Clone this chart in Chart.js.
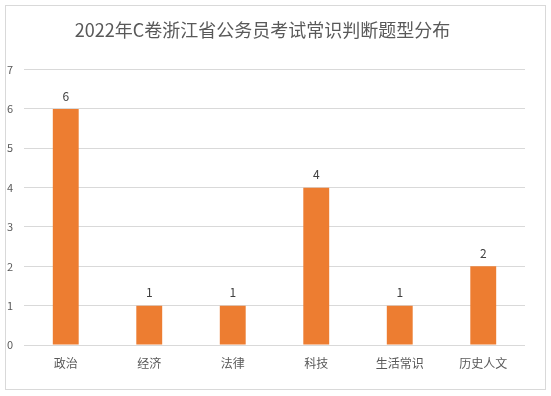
<!DOCTYPE html>
<html lang="zh">
<head>
<meta charset="UTF-8">
<title>常识判断题型分布</title>
<script src="https://cdn.jsdelivr.net/npm/chart.js"></script>
<style>
    body {
        margin: 0;
        padding: 0;
        background: #ffffff;
    }
    .wrap {
        position: relative;
        width: 551px;
        height: 396px;
    }
    .frame {
        position: absolute;
        left: 5px;
        top: 5px;
        width: 539px;
        height: 383px;
        border: 1px solid #d9d9d9;
        pointer-events: none;
    }
</style>
</head>
<body>
<div class="wrap">
    <canvas id="chart" width="551" height="396"></canvas>
    <div class="frame"></div>
</div>
<script>
    const categories = ['政治', '经济', '法律', '科技', '生活常识', '历史人文'];
    const counts = [6, 1, 1, 4, 1, 2];
    const yTicks = [0, 1, 2, 3, 4, 5, 6, 7];

    const FONT = '"Noto Sans CJK SC", "Noto Sans", sans-serif';

    // 柱子上方的数值
    const valueLabels = {
        id: 'valueLabels',
        afterDatasetsDraw(chart) {
            const ctx = chart.ctx;
            const meta = chart.getDatasetMeta(0);
            ctx.save();
            ctx.fillStyle = '#404040';
            ctx.font = '12px ' + FONT;
            ctx.textAlign = 'center';
            ctx.textBaseline = 'middle';
            meta.data.forEach((bar, i) => {
                ctx.fillText(counts[i], bar.x, bar.y - 13);
            });
            ctx.restore();
        }
    };

    new Chart(document.getElementById('chart'), {
        type: 'bar',
        data: {
            labels: categories,
            datasets: [{
                data: counts,
                backgroundColor: '#ed7d31',
                borderWidth: 0,
                categoryPercentage: 1,
                barPercentage: 0.31
            }]
        },
        options: {
            responsive: false,
            animation: false,
            layout: { padding: { left: 0, right: 26, top: 0, bottom: 0 } },
            scales: {
                x: {
                    grid: { display: false },
                    border: { display: false },
                    ticks: {
                        color: '#595959',
                        font: { family: FONT, size: 12 },
                        padding: 3
                    },
                    afterFit(scale) { scale.height = 51; }
                },
                y: {
                    min: 0,
                    max: 7,
                    afterBuildTicks(scale) {
                        scale.ticks = yTicks.map(v => ({ value: v }));
                    },
                    grid: { color: '#d9d9d9', drawTicks: false },
                    border: { display: false },
                    ticks: {
                        color: '#595959',
                        font: { family: FONT, size: 11 },
                        padding: 11
                    },
                    afterFit(scale) { scale.width = 24; }
                }
            },
            plugins: {
                legend: { display: false },
                tooltip: { enabled: false },
                title: {
                    display: true,
                    text: '2022年C卷浙江省公务员考试常识判断题型分布',
                    color: '#595959',
                    font: { family: FONT, size: 18, weight: 'normal' },
                    padding: { top: 19, bottom: 29 }
                }
            }
        },
        plugins: [valueLabels]
    });
</script>
</body>
</html>
